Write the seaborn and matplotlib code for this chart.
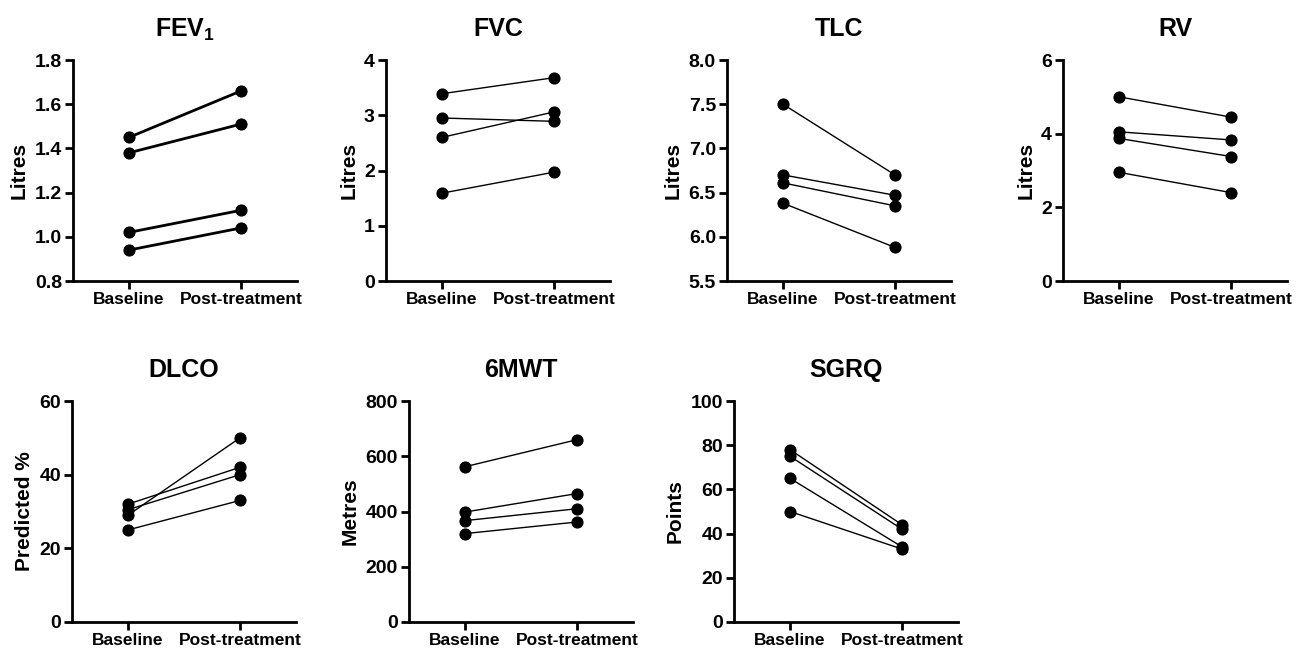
#!/usr/bin/env python3
"""Paired before/after plots of lung function and symptom scores"""

import pandas as pd
import matplotlib
matplotlib.use('Agg')
import matplotlib.pyplot as plt
import seaborn as sns

timepoints = ['Baseline', 'Post-treatment']

# one entry per patient, baseline and post-treatment values
fev1_base = [1.45, 1.38, 1.02, 0.94]
fev1_post = [1.66, 1.51, 1.12, 1.04]

fvc_base = [3.39, 2.95, 2.60, 1.59]
fvc_post = [3.68, 2.89, 3.06, 1.97]

tlc_base = [7.50, 6.70, 6.61, 6.38]
tlc_post = [6.70, 6.47, 6.35, 5.88]

rv_base = [5.00, 4.05, 3.87, 2.95]
rv_post = [4.45, 3.83, 3.38, 2.40]

dlco_base = [32, 30.5, 29, 25]
dlco_post = [42, 40, 50, 33]

mwt_base = [562, 398, 367, 320]
mwt_post = [660, 465, 410, 362]

sgrq_base = [78, 75, 65, 50]
sgrq_post = [44, 42, 34, 33]

# title, y label, baseline, post, y limits, y ticks, line width
panels = [
    ('FEV$_\\mathbf{1}$', 'Litres', fev1_base, fev1_post, (0.8, 1.8), [0.8, 1.0, 1.2, 1.4, 1.6, 1.8], 2.0),
    ('FVC', 'Litres', fvc_base, fvc_post, (0, 4), [0, 1, 2, 3, 4], 1.0),
    ('TLC', 'Litres', tlc_base, tlc_post, (5.5, 8.0), [5.5, 6.0, 6.5, 7.0, 7.5, 8.0], 1.0),
    ('RV', 'Litres', rv_base, rv_post, (0, 6), [0, 2, 4, 6], 1.0),
    ('DLCO', 'Predicted %', dlco_base, dlco_post, (0, 60), [0, 20, 40, 60], 1.0),
    ('6MWT', 'Metres', mwt_base, mwt_post, (0, 800), [0, 200, 400, 600, 800], 1.0),
    ('SGRQ', 'Points', sgrq_base, sgrq_post, (0, 100), [0, 20, 40, 60, 80, 100], 1.0),
]

# axes positions in pixels (left spine, bottom spine) for a 1299x652 figure
W, H = 1299, 652
positions = [(73, 281), (386, 281), (727, 281), (1063, 281),
             (72, 622), (409, 622), (734, 622)]
ax_w, ax_h = 224, 221

sns.set_theme(style='ticks')
plt.rcParams['font.family'] = ['Liberation Sans', 'DejaVu Sans']
plt.rcParams['font.weight'] = 'bold'
plt.rcParams['axes.labelweight'] = 'bold'
plt.rcParams['axes.titleweight'] = 'bold'
plt.rcParams['mathtext.fontset'] = 'custom'
plt.rcParams['mathtext.rm'] = 'Liberation Sans:bold'
plt.rcParams['mathtext.bf'] = 'Liberation Sans:bold'
for key in ['text.color', 'axes.labelcolor', 'axes.edgecolor', 'xtick.color', 'ytick.color']:
    plt.rcParams[key] = 'black'

fig = plt.figure(figsize=(W / 100, H / 100), dpi=100)

for (title, ylabel, base, post, ylim, yticks, lw), (px, py) in zip(panels, positions):
    ax = fig.add_axes([px / W, 1 - py / H, ax_w / W, ax_h / H])

    rows = []
    for i, (b, p) in enumerate(zip(base, post)):
        rows.append({'subject': i, 'time': timepoints[0], 'value': b})
        rows.append({'subject': i, 'time': timepoints[1], 'value': p})
    df = pd.DataFrame(rows)

    sns.lineplot(data=df, x='time', y='value', units='subject', estimator=None,
                 color='black', linewidth=lw, marker='o', markersize=8,
                 markeredgecolor='black', ax=ax)

    ax.set_xlim(-0.5, 1.5)
    ax.set_ylim(*ylim)
    ax.set_yticks(yticks)
    if ylim[1] < 10:
        ax.set_yticklabels([f'{t:.1f}' if isinstance(t, float) else str(t) for t in yticks])
    ax.set_xlabel('')
    ax.set_ylabel(ylabel, fontsize=15, fontweight='bold')
    ax.set_title(title, fontsize=18, fontweight='bold', pad=17, color='black')

    for side in ['left', 'bottom']:
        ax.spines[side].set_linewidth(2)
        ax.spines[side].set_color('black')
    sns.despine(ax=ax)
    ax.tick_params(axis='both', width=2, length=6, pad=2, colors='black')
    ax.tick_params(axis='x', labelsize=12.5)
    ax.tick_params(axis='y', labelsize=14)
    for lab in ax.get_xticklabels() + ax.get_yticklabels():
        lab.set_fontweight('bold')
    for ln in ax.lines:
        ln.set_clip_on(False)

fig.savefig('out.png', dpi=100)
